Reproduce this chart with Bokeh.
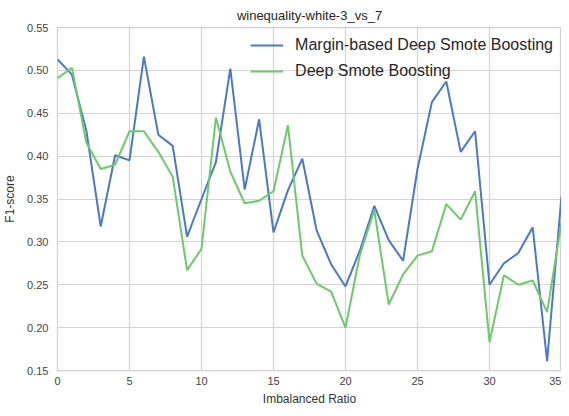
from bokeh.plotting import figure
from bokeh.models import Range1d, FixedTicker, NumeralTickFormatter, Legend, LegendItem
from bokeh.embed import file_html
from bokeh.resources import INLINE

ratios = list(range(0, 36))
margin_dsb = [0.513, 0.495, 0.430, 0.318, 0.401, 0.395, 0.516, 0.425, 0.412, 0.306,
              0.350, 0.393, 0.502, 0.361, 0.443, 0.311, 0.360, 0.397, 0.313, 0.274,
              0.248, 0.290, 0.342, 0.302, 0.278, 0.385, 0.463, 0.487, 0.405, 0.429,
              0.250, 0.275, 0.287, 0.317, 0.161, 0.353]
dsb = [0.491, 0.503, 0.416, 0.385, 0.390, 0.429, 0.429, 0.405, 0.376, 0.267,
       0.292, 0.445, 0.382, 0.345, 0.348, 0.359, 0.436, 0.284, 0.251, 0.242,
       0.200, 0.285, 0.337, 0.227, 0.262, 0.284, 0.289, 0.344, 0.326, 0.359,
       0.183, 0.261, 0.250, 0.255, 0.218, 0.323]
x_ticks = [0, 5, 10, 15, 20, 25, 30, 35]
y_ticks = [0.15, 0.20, 0.25, 0.30, 0.35, 0.40, 0.45, 0.50, 0.55]
title_text = "winequality-white-3_vs_7"
labels = ["Margin-based Deep Smote Boosting", "Deep Smote Boosting"]

FONT = "Liberation Sans"

p = figure(width=561, height=408, output_backend="svg", toolbar_location=None,
           x_range=Range1d(0, 35), y_range=Range1d(0.15, 0.55),
           min_border_left=50, min_border_right=0, min_border_top=10, min_border_bottom=20,
           title=title_text)

p.title.align = "center"
p.title.text_font = FONT
p.title.text_font_size = "13px"
p.title.text_font_style = "normal"
p.title.text_color = "#262626"
p.title.standoff = 10

p.background_fill_color = "white"
p.border_fill_color = "white"
p.outline_line_color = "#d0d0d0"
p.outline_line_width = 1.25

for g in (p.xgrid, p.ygrid):
    g.grid_line_color = "#d4d4d4"
    g.grid_line_width = 1.2

p.xaxis.ticker = FixedTicker(ticks=x_ticks)
p.yaxis.ticker = FixedTicker(ticks=y_ticks)
p.yaxis.formatter = NumeralTickFormatter(format="0.00")

for ax in (p.xaxis, p.yaxis):
    ax.axis_line_color = None
    ax.major_tick_line_color = None
    ax.minor_tick_line_color = None
    ax.major_tick_in = 0
    ax.major_tick_out = 0
    ax.minor_tick_in = 0
    ax.minor_tick_out = 0
    ax.major_label_text_font = FONT
    ax.major_label_text_font_size = "11px"
    ax.major_label_text_color = "#444444"
    ax.axis_label_text_font = FONT
    ax.axis_label_text_font_size = "12px"
    ax.axis_label_text_font_style = "normal"
    ax.axis_label_text_color = "#333333"

p.xaxis.axis_label = "Imbalanced Ratio"
p.yaxis.axis_label = "F1-score"
p.xaxis.major_label_standoff = 6
p.yaxis.major_label_standoff = 9
p.xaxis.axis_label_standoff = 4
p.yaxis.axis_label_standoff = 7

r1 = p.line(ratios, margin_dsb, line_color="#4878cf", line_width=2)
r2 = p.line(ratios, dsb, line_color="#6acc65", line_width=2)

legend = Legend(items=[LegendItem(label=labels[0], renderers=[r1]),
                       LegendItem(label=labels[1], renderers=[r2])],
                location="top_right")
legend.background_fill_alpha = 0
legend.border_line_color = None
legend.label_text_font = FONT
legend.label_text_font_size = "16px"
legend.label_text_color = "#262626"
legend.glyph_width = 33
legend.label_standoff = 12
legend.spacing = 6
legend.margin = 8
legend.padding = 4
p.add_layout(legend)

open("out.html", "w").write(file_html(p, INLINE))
